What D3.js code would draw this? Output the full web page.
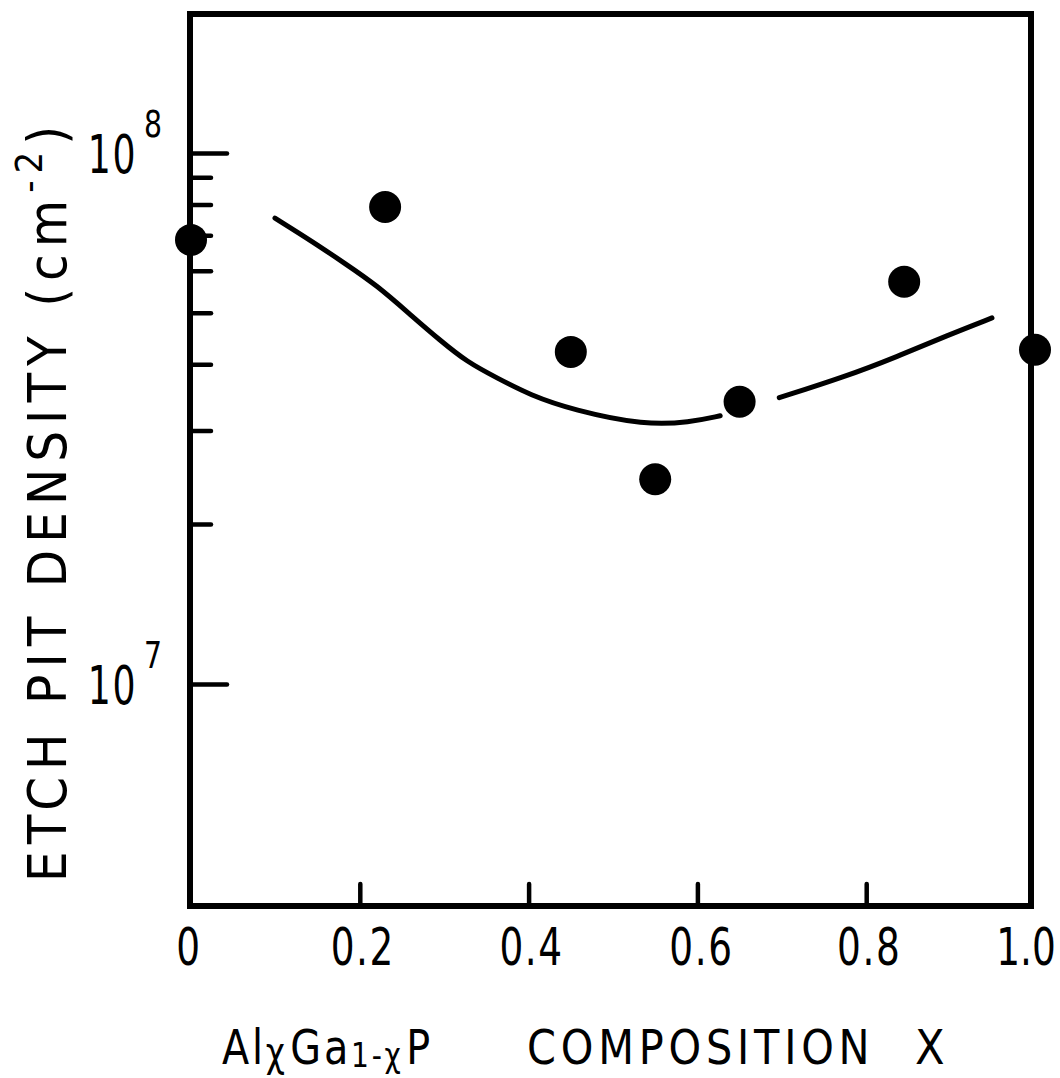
<!DOCTYPE html>
<html>
<head>
<meta charset="utf-8">
<script src="https://cdn.jsdelivr.net/npm/d3@7"></script>
<style>
  html, body { margin: 0; padding: 0; background: #fff; }
  svg text { font-family: "DejaVu Sans Condensed", "DejaVu Sans", sans-serif; fill: #000; }
</style>
</head>
<body>
<svg id="chart" width="1060" height="1078"></svg>
<script>
// Measured etch pit densities (cm^-2) versus Al fraction x in AlxGa1-xP
const compX   = [0, 0.23, 0.45, 0.55, 0.65, 0.845, 1.0];
const density = [6.86e7, 7.91e7, 4.22e7, 2.43e7, 3.40e7, 5.72e7, 4.26e7];

// Hand-drawn trend curve, drawn in two pieces (broken around the x = 0.65 point)
const trendX1 = [0.0995, 0.1445, 0.180, 0.220, 0.263, 0.295, 0.327, 0.3626, 0.4017, 0.4526, 0.538, 0.591, 0.627];
const trendY1 = [7.54e7, 6.80e7, 6.23e7, 5.64e7, 4.91e7, 4.44e7, 4.04e7, 3.77e7, 3.50e7, 3.28e7, 3.07e7, 3.11e7, 3.20e7];
const trendX2 = [0.697, 0.775, 0.836, 0.897, 0.949];
const trendY2 = [3.46e7, 3.79e7, 4.13e7, 4.54e7, 4.89e7];

// Axis ticks and labels
const xTicks      = [0, 0.2, 0.4, 0.6, 0.8, 1.0];
const xTickLabels = ["0", "0.2", "0.4", "0.6", "0.8", "1.0"];
const yMajor      = [1e7, 1e8];
const yMajorExp   = ["7", "8"];
const yMinor      = [2e7, 3e7, 4e7, 5e7, 6e7, 7e7, 8e7, 9e7];

const svg = d3.select("#chart");

// Plot frame
const frame = { left: 190, right: 1031, top: 14, bottom: 906 };

const x = d3.scaleLinear().domain([0, 1]).range([191, 1035]);
const y = d3.scaleLog().domain([3.818e6, 1.827e8]).range([frame.bottom, frame.top]);

// Narrow lettering: text placed at (px, py) and squeezed horizontally
function narrowText(parent, px, py, str, size, anchor, sx) {
  return parent.append("text")
    .attr("transform", `translate(${px},${py}) scale(${sx},1)`)
    .attr("text-anchor", anchor)
    .attr("font-size", size)
    .text(str);
}

// Frame box
svg.append("rect")
  .attr("x", frame.left).attr("y", frame.top)
  .attr("width", frame.right - frame.left).attr("height", frame.bottom - frame.top)
  .attr("fill", "none").attr("stroke", "#000").attr("stroke-width", 6);

// Bottom axis: inward ticks
const xAxis = d3.axisBottom(x).tickValues(xTicks.slice(1, -1)).tickSize(-22).tickFormat("");
const gx = svg.append("g").attr("transform", `translate(0,${frame.bottom})`).call(xAxis);
gx.select(".domain").remove();
gx.selectAll(".tick line").attr("stroke", "#000").attr("stroke-width", 4.5).attr("stroke-linecap", "round");

// Tick labels; the end labels are nudged inward to stay on the page
const labelNudge = [-2, 3, 3, 4, 3, -9];
const gxl = svg.append("g");
xTicks.forEach((d, i) => {
  narrowText(gxl, x(d) + labelNudge[i], 965, xTickLabels[i], 52, "middle", 0.8)
    .attr("letter-spacing", i === xTicks.length - 1 ? 0 : 2);
});

// Left axis: major and minor inward ticks
const gyMajor = svg.append("g").attr("transform", `translate(${frame.left},0)`)
  .call(d3.axisRight(y).tickValues(yMajor).tickSize(37).tickFormat(""));
const gyMinor = svg.append("g").attr("transform", `translate(${frame.left},0)`)
  .call(d3.axisRight(y).tickValues(yMinor).tickSize(21).tickFormat(""));
[gyMajor, gyMinor].forEach(g => {
  g.select(".domain").remove();
  g.selectAll(".tick line").attr("stroke", "#000").attr("stroke-width", 4.5).attr("stroke-linecap", "round");
});

// Power-of-ten labels
const gyl = svg.append("g");
yMajor.forEach((d, i) => {
  narrowText(gyl, 137, y(d) + 20, "10", 53, "end", 0.76).attr("letter-spacing", 2);
  narrowText(gyl, 144, y(d) - 16, yMajorExp[i], 37, "start", 0.85);
});

// Trend curve
const line = d3.line()
  .x(d => x(d[0]))
  .y(d => y(d[1]))
  .curve(d3.curveBasis);
[[trendX1, trendY1], [trendX2, trendY2]].forEach(([xs, ys]) => {
  svg.append("path")
    .datum(xs.map((v, i) => [v, ys[i]]))
    .attr("d", line)
    .attr("fill", "none")
    .attr("stroke", "#000")
    .attr("stroke-width", 5)
    .attr("stroke-linecap", "round");
});

// Data points
svg.append("g").selectAll("circle").data(compX).join("circle")
  .attr("cx", d => x(d))
  .attr("cy", (d, i) => y(density[i]))
  .attr("r", 16)
  .attr("fill", "#000");

// X axis title: compound formula, then the word and the variable
const xt = svg.append("text")
  .attr("transform", "translate(222,1064) scale(0.92,1)")
  .attr("font-size", 48)
  .attr("letter-spacing", 3);
xt.append("tspan").text("Al");
xt.append("tspan").attr("font-size", 40).attr("dy", 2).text("χ");
xt.append("tspan").attr("dy", -2).attr("dx", 3).text("Ga");
xt.append("tspan").attr("font-size", 34).attr("dy", 3).text("1-χ");
xt.append("tspan").attr("dy", -3).attr("dx", 3).text("P");

narrowText(svg, 527, 1064, "COMPOSITION", 48, "start", 0.96).attr("letter-spacing", 5);
narrowText(svg, 915, 1064, "X", 48, "start", 1);

// Y axis title
const yt = svg.append("text")
  .attr("transform", "translate(66,882) rotate(-90)")
  .attr("font-size", 54)
  .attr("letter-spacing", 7);
yt.append("tspan").text("ETCH PIT DENSITY  (cm");
yt.append("tspan").attr("font-size", 38).attr("dy", -24).text("-2");
yt.append("tspan").attr("dy", 24).text(")");
</script>
</body>
</html>
